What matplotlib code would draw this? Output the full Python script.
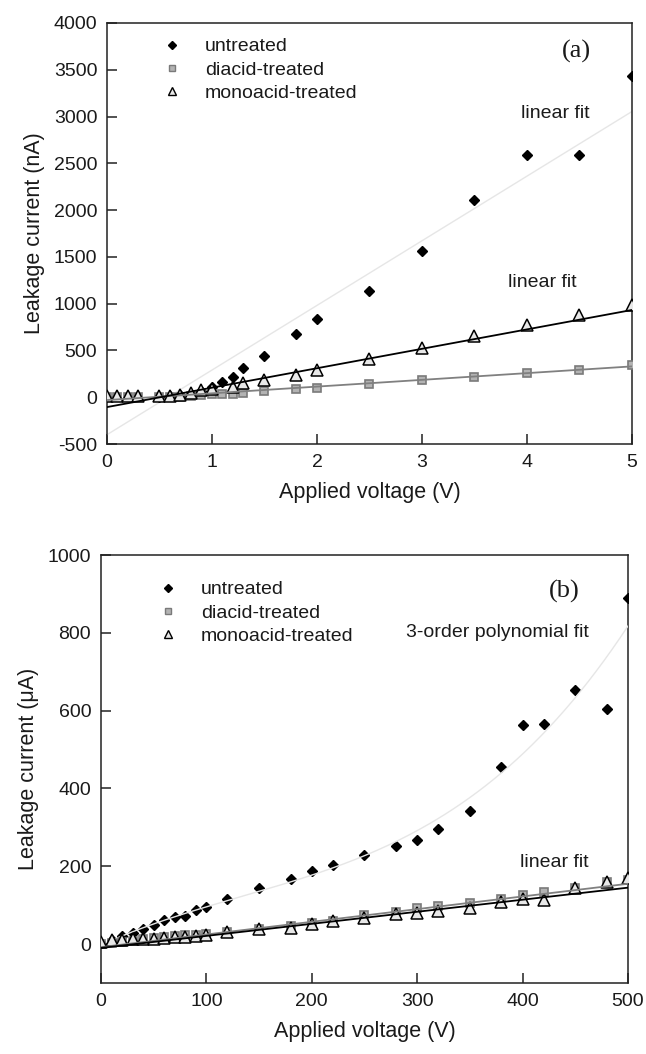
import numpy as np
import matplotlib
matplotlib.use("Agg")
import matplotlib.pyplot as plt
from matplotlib.lines import Line2D

plt.rcParams['font.family'] = ['Liberation Sans', 'DejaVu Sans']
plt.rcParams['axes.unicode_minus'] = False

# ---------------- Panel (a) data (nA vs V) ----------------
va_untreated = [0.5, 0.6, 0.7, 0.8, 0.9, 1.0, 1.1, 1.2, 1.3, 1.5, 1.8, 2.0, 2.5, 3.0, 3.5, 4.0, 4.5, 5.0]
ia_untreated = [5, 10, 20, 40, 70, 110, 160, 215, 310, 445, 680, 834, 1137, 1566, 2110, 2590, 2590, 3436]

va_diacid = [0, 0.1, 0.2, 0.3, 0.5, 0.6, 0.7, 0.8, 0.9, 1.0, 1.1, 1.2, 1.3, 1.5, 1.8, 2.0, 2.5, 3.0, 3.5, 4.0, 4.5, 5.0]
ia_diacid = [0, 0, 0, 0, 5, 5, 8, 15, 25, 33, 36, 38, 44, 64, 85, 103, 141, 183, 218, 264, 296, 341]

va_mono = [0, 0.1, 0.2, 0.3, 0.5, 0.6, 0.7, 0.8, 0.9, 1.0, 1.2, 1.3, 1.5, 1.8, 2.0, 2.5, 3.0, 3.5, 4.0, 4.5, 5.0]
ia_mono = [15, 15, 15, 15, 10, 12, 25, 50, 75, 90, 115, 150, 185, 240, 295, 410, 525, 655, 770, 875, 990]

# linear fits: (slope, intercept)
fit_a_untreated = (690.8, -400.0)
fit_a_mono = (207.6, -105.0)
fit_a_diacid = (72.0, -30.0)

# ---------------- Panel (b) data (uA vs V) ----------------
vb = [0, 10, 20, 30, 40, 50, 60, 70, 80, 90, 100, 120, 150, 180, 200, 220, 250, 280, 300, 320, 350, 380, 400, 420, 450, 480, 500]
ib_untreated = [3, 10, 20, 28, 38, 49, 62, 69, 72, 87, 96, 115, 145, 168, 189, 204, 228, 252, 267, 297, 342, 455, 562, 566, 653, 603, 889]
ib_diacid = [0, 3, 6, 9, 12, 15, 17, 20, 22, 24, 26, 31, 39, 47, 53, 60, 74, 83, 92, 98, 106, 117, 126, 133, 143, 160, 165]
ib_mono = [5, 10, 10, 12, 13, 14, 15, 17, 19, 21, 23, 30, 38, 42, 51, 60, 66, 76, 80, 85, 92, 109, 116, 113, 143, 160, 170]

fit_b_diacid = (0.326, -8.0)
fit_b_mono = (0.31, -10.0)

labels = ['untreated', 'diacid-treated', 'monoacid-treated']

TXT = '#1a1a1a'
fig = plt.figure(figsize=(6.46, 10.54), dpi=100)
ax_a = fig.add_axes([0.1656, 0.5787, 0.8127, 0.3995])
ax_b = fig.add_axes([0.1563, 0.0674, 0.8158, 0.4060])

mk_u = dict(marker='D', ms=5.0, mfc='black', mec='black', ls='none', zorder=3)
mk_d = dict(marker='s', ms=6.0, mfc='#b3b3b3', mec='#7a7a7a', mew=1.2, ls='none', zorder=4)
mk_m = dict(marker='^', ms=8.0, mfc='#e8e8e8', mec='black', mew=1.1, ls='none', zorder=5)


def style(ax):
    for s in ax.spines.values():
        s.set_linewidth(1.1)
        s.set_color('#222222')
    ax.tick_params(direction='in', length=7, width=1.1, labelsize=14,
                   colors='#222222', labelcolor=TXT, pad=7,
                   top=False, right=False)


# ---- panel (a)
xa = np.array([0.0, 5.0])
ax_a.plot(va_untreated, ia_untreated, **mk_u)
ax_a.plot(va_diacid, ia_diacid, **mk_d)
ax_a.plot(va_mono, ia_mono, **mk_m)
ax_a.plot(xa, fit_a_untreated[0] * xa + fit_a_untreated[1], color='#e6e6e6', lw=1.0, zorder=2)
ax_a.plot(xa, fit_a_diacid[0] * xa + fit_a_diacid[1], color='#808080', lw=1.3, zorder=6)
ax_a.plot(xa, fit_a_mono[0] * xa + fit_a_mono[1], color='black', lw=1.3, zorder=6)
ax_a.set_xlim(0, 5)
ax_a.set_ylim(-500, 4000)
ax_a.set_xticks([0, 1, 2, 3, 4, 5])
ax_a.set_yticks(np.arange(-500, 4001, 500))
ax_a.set_xlabel('Applied voltage (V)', fontsize=15.5, color=TXT, labelpad=8)
ax_a.set_ylabel('Leakage current (nA)', fontsize=15.5, color=TXT, labelpad=6)
style(ax_a)
ax_a.text(4.47, 3694, '(a)', fontsize=19, family=['Liberation Serif'], color=TXT, ha='center', va='center')
ax_a.text(4.27, 3034, 'linear fit', fontsize=14, color=TXT, ha='center', va='center')
ax_a.text(4.15, 1225, 'linear fit', fontsize=14, color=TXT, ha='center', va='center')

# ---- panel (b)
xb = np.array([0.0, 500.0])
xc = np.linspace(0, 500, 200)
poly = np.polyfit(vb, ib_untreated, 3)
ax_b.plot(vb, ib_untreated, **mk_u)
ax_b.plot(vb, ib_diacid, **mk_d)
ax_b.plot(vb, ib_mono, **mk_m)
ax_b.plot(xc, np.polyval(poly, xc), color='#e6e6e6', lw=1.0, zorder=3.5)
ax_b.plot(xb, fit_b_diacid[0] * xb + fit_b_diacid[1], color='#808080', lw=1.3, zorder=6)
ax_b.plot(xb, fit_b_mono[0] * xb + fit_b_mono[1], color='black', lw=1.3, zorder=6)
ax_b.set_xlim(0, 500)
ax_b.set_ylim(-100, 1000)
ax_b.set_xticks([0, 100, 200, 300, 400, 500])
ax_b.set_yticks([0, 200, 400, 600, 800, 1000])
ax_b.set_xlabel('Applied voltage (V)', fontsize=15.5, color=TXT, labelpad=8)
ax_b.set_ylabel('Leakage current (\u03bcA)', fontsize=15.5, color=TXT, labelpad=6)
style(ax_b)
ax_b.text(440, 906, '(b)', fontsize=19, family=['Liberation Serif'], color=TXT, ha='center', va='center')
ax_b.text(376, 800, '3-order polynomial fit', fontsize=14, color=TXT, ha='center', va='center')
ax_b.text(430, 209, 'linear fit', fontsize=14, color=TXT, ha='center', va='center')


def legend(ax, anchor):
    handles = [
        Line2D([], [], marker='D', ms=4.0, mfc='black', mec='black', ls='none'),
        Line2D([], [], marker='s', ms=5.0, mfc='#b3b3b3', mec='#7a7a7a', mew=1.0, ls='none'),
        Line2D([], [], marker='^', ms=6.0, mfc='#e8e8e8', mec='black', mew=1.0, ls='none'),
    ]
    leg = ax.legend(handles, labels, loc='upper left', bbox_to_anchor=anchor,
                    frameon=False, fontsize=14, handlelength=1.0, handletextpad=1.2,
                    labelspacing=0.3, borderpad=0, borderaxespad=0)
    for t in leg.get_texts():
        t.set_color(TXT)


legend(ax_a, (0.105, 0.965))
legend(ax_b, (0.108, 0.94))

fig.savefig('out.png', dpi=100)
